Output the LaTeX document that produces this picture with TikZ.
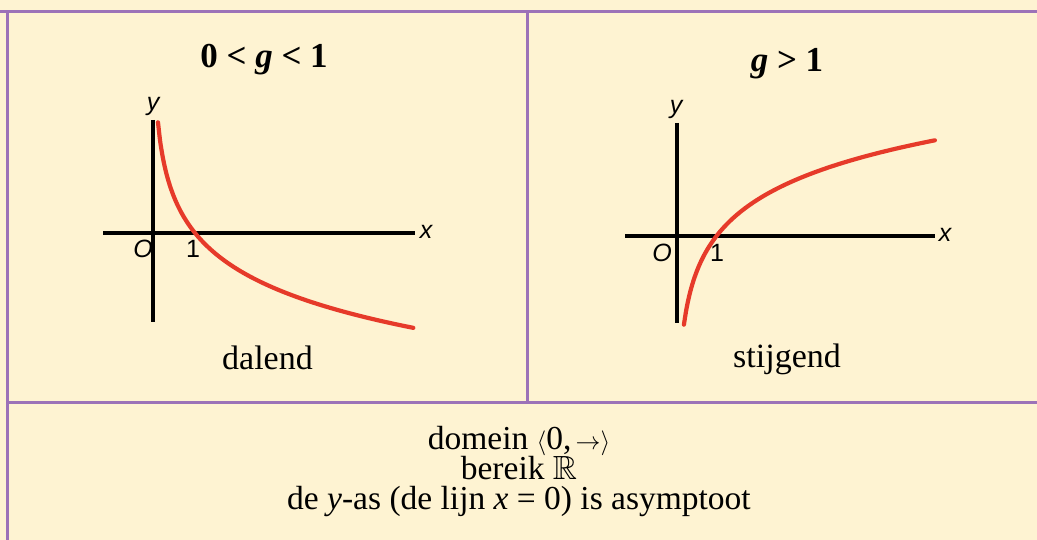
\documentclass[tikz,border=0pt]{standalone}
\usepackage{amssymb}
\usepackage{fontspec}
\setmainfont{Liberation Serif}
\newfontfamily\axfont{Liberation Sans}
\definecolor{bgcol}{HTML}{FEF3D2}
\definecolor{framecol}{HTML}{9C72B8}
\definecolor{curvecol}{HTML}{E63A2A}
\tikzset{
  frameline/.style={draw=framecol, line width=3pt},
  axisline/.style={draw=black, line width=3.2pt},
  graphcurve/.style={draw=curvecol, line width=4.2pt, smooth, line cap=round},
  axlabel/.style={font=\fontsize{25}{27}\selectfont\axfont\itshape, inner sep=0pt},
  axnum/.style={font=\fontsize{25}{27}\selectfont\axfont, inner sep=0pt},
  title/.style={font=\fontsize{35}{38}\selectfont\bfseries, inner sep=0pt, anchor=base},
  body/.style={font=\fontsize{34}{38}\selectfont, inner sep=0pt, anchor=base},
  bottomtext/.style={font=\fontsize{33.5}{36}\selectfont, inner sep=0pt, anchor=base}
}
\begin{document}
\begin{tikzpicture}[x=1pt,y=-1pt]
\useasboundingbox (0,0) rectangle (1037,540);
\fill[bgcol] (0,0) rectangle (1037,540);
% frame
\draw[frameline] (0,12) -- (1037,12);
\draw[frameline] (7,12) -- (7,540);
\draw[frameline] (527,12) -- (527,402);
\draw[frameline] (7,402) -- (1037,402);
% titles
\node[title] (t1) at (264,68) {0 < \textit{g} < 1};
\node[title] (t2) at (787,72) {\textit{g} > 1};
% left graph
\draw[axisline] (103,233) -- (415,233);
\draw[axisline] (153,120) -- (153,322);
\draw[graphcurve] plot[domain=0.119:6.2, samples=120] ({153+42*\x},{233+52*ln(\x)});
\node[axlabel] (lx) at (426,232) {x};
\node[axlabel] (ly) at (153,106) {y};
\node[axlabel] (lo) at (143,249) {O};
\node[axnum] (l1) at (193,249) {1};
\node[body] (dal) at (267.5,370) {dalend};
% right graph
\draw[axisline] (625,236) -- (935,236);
\draw[axisline] (677,123) -- (677,323);
\draw[graphcurve] plot[domain=0.175:6.53, samples=120] ({677+39.5*\x},{236-51*ln(\x)});
\node[axlabel] (rx) at (945,235) {x};
\node[axlabel] (ry) at (676,109) {y};
\node[axlabel] (ro) at (662,253) {O};
\node[axnum] (r1) at (717,253) {1};
\node[body] (stij) at (787,367) {stijgend};
% bottom
\node[bottomtext] (dom) at (519,449) {domein $\langle$0,$\,\rightarrow\rangle$};
\node[bottomtext] (ber) at (519,479) {bereik $\mathbb{R}$};
\node[bottomtext] (asy) at (519,509) {de \textit{y}-as (de lijn \textit{x} = 0) is asymptoot};
\end{tikzpicture}
\end{document}
